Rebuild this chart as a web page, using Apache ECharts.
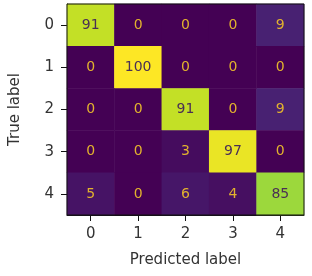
<!DOCTYPE html>
<html><head><meta charset="utf-8">
<script src="https://cdn.jsdelivr.net/npm/echarts@6/dist/echarts.min.js"></script>
<style>html,body{margin:0;padding:0;background:#fff}#c{width:312px;height:276px}</style>
</head><body><div id="c"></div>
<script>
const predictedLabels = ['0','1','2','3','4'];
const trueLabels = ['0','1','2','3','4'];
const row0 = [91, 0, 0, 0, 9];
const row1 = [0, 100, 0, 0, 0];
const row2 = [0, 0, 91, 0, 9];
const row3 = [0, 0, 3, 97, 0];
const row4 = [5, 0, 6, 4, 85];
const matrix = [row0, row1, row2, row3, row4];

const data = [];
matrix.forEach((row, i) => row.forEach((v, j) => {
  data.push({value: [j, i, v], label: {color: v > 50 ? '#4a2f55' : '#e2b22e'}});
}));

const chart = echarts.init(document.getElementById('c'));
const font = 'DejaVu Sans';
chart.setOption({
  animation: false,
  grid: {left: 64, right: 8, top: 4, bottom: 61, show: true, z: 10, borderColor: '#111', borderWidth: 1, backgroundColor: 'transparent'},
  xAxis: {
    type: 'category', data: predictedLabels,
    name: 'Predicted label', nameLocation: 'middle', nameGap: 38,
    nameTextStyle: {fontFamily: font, fontSize: 15, color: '#333'},
    axisLine: {show: true, lineStyle: {color: '#111'}},
    axisTick: {show: true, alignWithLabel: true, length: 6, lineStyle: {color: '#111'}},
    axisLabel: {fontFamily: font, fontSize: 15, color: '#333', margin: 12},
    splitLine: {show: false}
  },
  yAxis: {
    type: 'category', data: trueLabels, inverse: true,
    name: 'True label', nameLocation: 'middle', nameGap: 44,
    nameTextStyle: {fontFamily: font, fontSize: 15, color: '#333'},
    axisLine: {show: true, lineStyle: {color: '#111'}},
    axisTick: {show: true, alignWithLabel: true, length: 6, lineStyle: {color: '#111'}},
    axisLabel: {fontFamily: font, fontSize: 15, color: '#333', margin: 13},
    splitLine: {show: false}
  },
  visualMap: {
    show: false, min: 0, max: 100, dimension: 2,
    inRange: {color: ['#440154','#482475','#414487','#355f8d','#2a788e','#21918c','#22a884','#44bf70','#7ad151','#bddf26','#fde725']}
  },
  series: [{
    type: 'heatmap', data: data,
    label: {show: true, fontFamily: font, fontSize: 14},
    itemStyle: {borderWidth: 0}
  }]
});
</script></body></html>
